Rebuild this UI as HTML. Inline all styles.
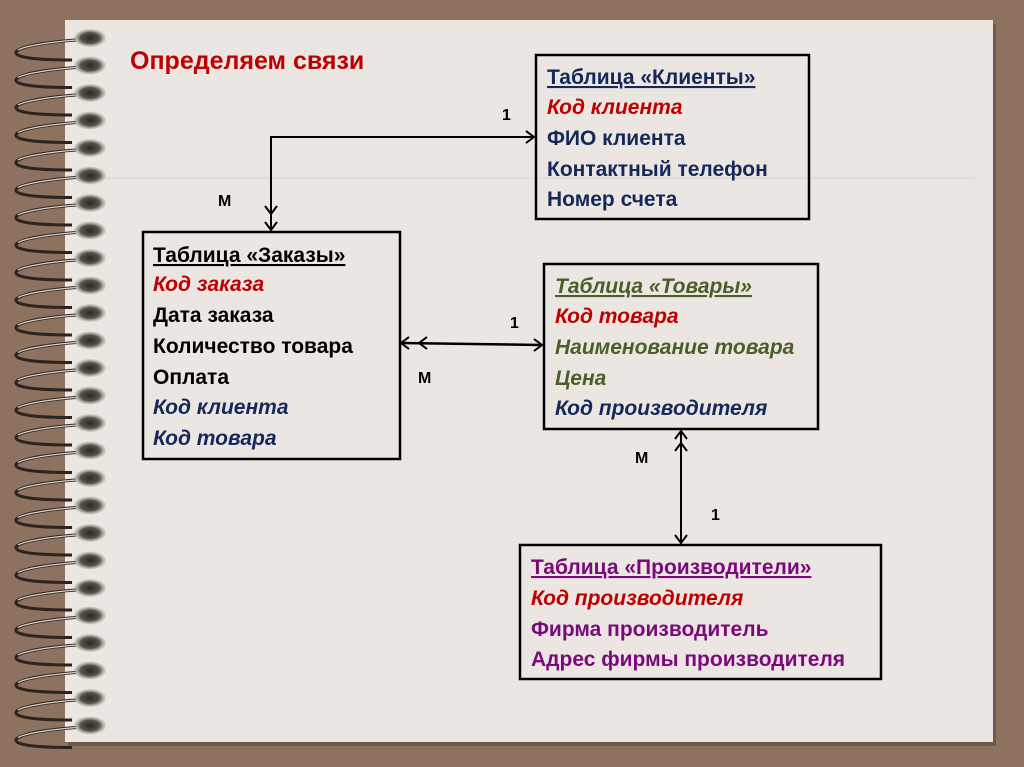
<!DOCTYPE html>
<html><head><meta charset="utf-8"><style>
html,body{margin:0;padding:0;}
body{width:1024px;height:767px;overflow:hidden;background:#8e7260;}
svg{display:block}
text{font-family:"Liberation Sans",sans-serif;font-weight:bold;font-size:21px;}
.n{fill:#14285a}.r{fill:#c00000;font-style:italic}.k{fill:#000}.g{fill:#4b5e2a}.p{fill:#7a0a7a}
</style></head><body>
<svg width="1024" height="767" viewBox="0 0 1024 767">
<defs>
<radialGradient id="bl" cx="50%" cy="50%" r="50%">
<stop offset="0" stop-color="#2a2820"/><stop offset="0.6" stop-color="#57554a"/><stop offset="1" stop-color="#9a9888" stop-opacity="0.2"/>
</radialGradient>
<g id="rg"><path d="M76 0 C50 2 20 6 16 12 C14 18 40 20 72 20" fill="none" stroke="#2c241e" stroke-width="3"/><path d="M76 0 C50 2 25 6 18 10" fill="none" stroke="#d8d4cc" stroke-width="1.2"/><ellipse cx="90" cy="-2" rx="16" ry="9" fill="url(#bl)"/></g>
</defs>
<rect x="0" y="0" width="1024" height="767" fill="#8e7260"/>
<rect x="68" y="24" width="928" height="722" fill="#6e5a4c"/>
<rect x="65" y="20" width="928" height="722" fill="#ebe6e2"/>
<line x1="65" y1="178" x2="975" y2="178" stroke="#d8cfc8" stroke-width="1"/>

<text x="130" y="69" style="fill:#c00000;font-size:25px">Определяем связи</text>

<rect x="536" y="55" width="273" height="164" fill="none" stroke="#000" stroke-width="2.5"/>
<text x="547" y="84" class="n" text-decoration="underline">Таблица «Клиенты»</text>
<text x="547" y="114" class="r">Код клиента</text>
<text x="547" y="145" class="n">ФИО клиента</text>
<text x="547" y="176" class="n">Контактный телефон</text>
<text x="547" y="206" class="n">Номер счета</text>

<rect x="143" y="232" width="257" height="227" fill="none" stroke="#000" stroke-width="2.5"/>
<text x="153" y="262" class="k" text-decoration="underline">Таблица «Заказы»</text>
<text x="153" y="291" class="r">Код заказа</text>
<text x="153" y="322" class="k">Дата заказа</text>
<text x="153" y="353" class="k">Количество товара</text>
<text x="153" y="384" class="k">Оплата</text>
<text x="153" y="414" class="n" font-style="italic">Код клиента</text>
<text x="153" y="445" class="n" font-style="italic">Код товара</text>

<rect x="544" y="264" width="274" height="165" fill="none" stroke="#000" stroke-width="2.5"/>
<text x="555" y="293" class="g" font-style="italic" text-decoration="underline">Таблица «Товары»</text>
<text x="555" y="323" class="r">Код товара</text>
<text x="555" y="354" class="g" font-style="italic">Наименование товара</text>
<text x="555" y="385" class="g" font-style="italic">Цена</text>
<text x="555" y="415" class="n" font-style="italic">Код производителя</text>

<rect x="520" y="545" width="361" height="134" fill="none" stroke="#000" stroke-width="2.5"/>
<text x="531" y="574" class="p" text-decoration="underline">Таблица «Производители»</text>
<text x="531" y="605" class="r">Код производителя</text>
<text x="531" y="636" class="p">Фирма производитель</text>
<text x="531" y="666" class="p">Адрес фирмы производителя</text>

<g stroke="#000" stroke-width="2" fill="none">
<polyline points="534,137 271,137 271,230"/>
<polyline points="526,131 534,137 526,143"/>
<polyline points="265,206 271,214 277,206"/>
<polyline points="265,222 271,230 277,222"/>
<line x1="401" y1="343" x2="542" y2="345" stroke-width="2.5"/>
<polyline points="409,337 401,343 409,349"/>
<polyline points="427,337 419,343 427,349"/>
<polyline points="534,339 542,345 534,351"/>
<line x1="681" y1="431" x2="681" y2="543"/>
<polyline points="675,439 681,431 687,439"/>
<polyline points="675,451 681,443 687,451"/>
<polyline points="675,535 681,543 687,535"/>
</g>
<g class="k">
<text x="502" y="120" style="font-size:16px">1</text>
<text x="218" y="206" style="font-size:16px">М</text>
<text x="510" y="328" style="font-size:16px">1</text>
<text x="418" y="383" style="font-size:16px">М</text>
<text x="635" y="463" style="font-size:16px">М</text>
<text x="711" y="520" style="font-size:16px">1</text>
</g>

<g>
<use href="#rg" y="40"/><use href="#rg" y="67.5"/><use href="#rg" y="95"/><use href="#rg" y="122.5"/>
<use href="#rg" y="150"/><use href="#rg" y="177.5"/><use href="#rg" y="205"/><use href="#rg" y="232.5"/>
<use href="#rg" y="260"/><use href="#rg" y="287.5"/><use href="#rg" y="315"/><use href="#rg" y="342.5"/>
<use href="#rg" y="370"/><use href="#rg" y="397.5"/><use href="#rg" y="425"/><use href="#rg" y="452.5"/>
<use href="#rg" y="480"/><use href="#rg" y="507.5"/><use href="#rg" y="535"/><use href="#rg" y="562.5"/>
<use href="#rg" y="590"/><use href="#rg" y="617.5"/><use href="#rg" y="645"/><use href="#rg" y="672.5"/>
<use href="#rg" y="700"/><use href="#rg" y="727.5"/>
</g>
</svg>
</body></html>
